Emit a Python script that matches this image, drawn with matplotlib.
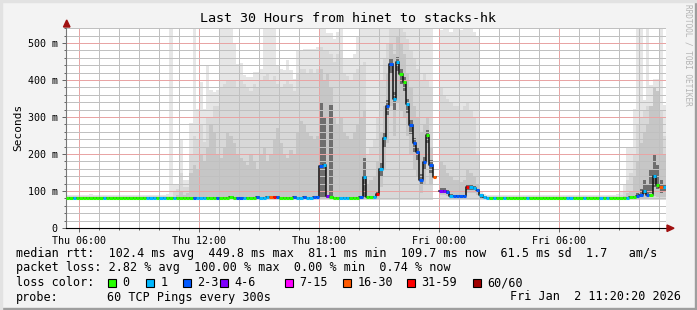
import numpy as np
import matplotlib
matplotlib.use('Agg')
import matplotlib.pyplot as plt
import matplotlib.dates as mdates
from matplotlib.ticker import MultipleLocator, FuncFormatter
from matplotlib.collections import LineCollection
from matplotlib.patches import Rectangle, Polygon
from datetime import datetime, timedelta

# smokeping graph: 30 hours of TCP pings hinet -> stacks-hk
title = 'Last 30 Hours from hinet to stacks-hk'
start = datetime(2026, 1, 1, 5, 20, 20)   # Thu
step_min = 10

# median rtt (ms) per 10 minute step, None = no answer
median_ms = [
    82, 82, 81, 82, 82, 82, 82, 81, 82, 82, 82, 82, 82, 82, 82, 82, 82, 82,
    82, 82, 82, 82, 82, 82, 82, 82, 82, 82, 82, 82, 82, 82, 82, 82, 82, 82,
    82, 82, 82, 82, 82, 82, 82, 82, 82, 82, 82, 82, 82, 83, 82, 82, 82, 82,
    82, 82, 82, 83, 82, 82, 83, 84, 84, 83, 82, 82, 82, 82, 83, 82, 82, 83,
    82, 82, 83, 83, 168, 171, 86, 84, 82, 82, 82, 82, 82, 82, 82, 82, 85, 139,
    84, 84, 85, 91, 160, 242, 330, 442, 350, 449.8, 415, 394, 335, 278, 229, 206, 131, 179,
    251, 170, 139, None, 101, 101, 96, 87, 86, 86, 86, 86, 110, 110, 109, 103, 89, 83,
    82, 82, 82, 82, 82, 82, 82, 82, 82, 82, 82, 82, 82, 82, 82, 82, 82, 82,
    82, 82, 82, 82, 82, 82, 82, 82, 82, 82, 82, 82, 82, 82, 82, 82, 82, 82,
    82, 82, 82, 82, 82, 82, 82, 84, 85, 87, 88, 101, 89, 90, 140, 116, 110, 110,
]

# loss class per step (index into loss_labels)
loss_code = [
    0, 0, 1, 0, 0, 0, 0, 0, 0, 0, 0, 1, 0, 0, 0, 0, 0, 0,
    0, 0, 0, 0, 0, 0, 1, 1, 1, 0, 1, 1, 0, 0, 1, 0, 0, 0,
    0, 0, 2, 1, 1, 1, 0, 0, 0, 2, 0, 0, 0, 0, 0, 2, 2, 1,
    0, 0, 0, 2, 1, 1, 1, 5, 6, 2, 0, 0, 0, 0, 2, 1, 1, 2,
    1, 1, 2, 2, 2, 1, 3, 0, 0, 0, 1, 1, 1, 0, 0, 0, 2, 1,
    0, 0, 1, 6, 1, 1, 2, 2, 1, 1, 0, 0, 1, 2, 2, 2, 2, 2,
    0, 2, 5, 7, 3, 3, 2, 1, 2, 2, 2, 2, 6, 1, 1, 2, 1, 1,
    1, 0, 1, 0, 0, 1, 0, 0, 0, 0, 0, 0, 1, 0, 0, 0, 0, 0,
    0, 0, 0, 0, 0, 0, 1, 1, 0, 0, 0, 1, 0, 0, 0, 0, 1, 0,
    1, 0, 0, 0, 0, 0, 1, 0, 0, 2, 2, 1, 2, 0, 1, 0, 5, 1,
]

# smoke: spread of the 60 pings per step (ms)
smoke_floor = 76
smoke_max = [
    89, 90, 89, 89, 88, 89, 90, 91, 89, 89, 88, 89, 89, 90, 89, 89, 89, 88,
    89, 89, 90, 89, 89, 88, 89, 89, 90, 89, 89, 90, 92, 545, 120, 118, 240, 130,
    130, 283, 545, 323, 395, 323, 440, 373, 368, 373, 545, 545, 545, 545, 500, 442, 445, 413,
    409, 409, 422, 422, 431, 545, 545, 545, 545, 440, 430, 427, 454, 427, 404, 481, 481, 485,
    485, 485, 485, 490, 545, 545, 526, 526, 512, 530, 545, 458, 458, 458, 470, 520, 540, 540,
    540, 545, 545, 545, 545, 545, 545, 545, 545, 545, 545, 545, 545, 545, 545, 545, 545, 545,
    545, 545, 545, None, 535, 540, 545, 530, 540, 545, 535, 540, 545, 540, 530, 520, 100, 92,
    89, 90, 89, 89, 90, 89, 88, 89, 89, 90, 89, 89, 89, 88, 89, 90, 89, 89,
    89, 89, 90, 89, 89, 88, 89, 89, 90, 89, 89, 89, 90, 89, 89, 88, 89, 89,
    89, 90, 90, 92, 100, 120, 215, 215, 323, 540, 540, 346, 540, 386, 404, 404, 540, 332,
]
smoke_p90 = [
    86, 86, 86, 86, 86, 86, 86, 86, 86, 86, 86, 86, 86, 86, 86, 86, 86, 86,
    86, 86, 86, 86, 86, 86, 86, 86, 86, 86, 86, 86, 86, 86, 100, 105, 150, 110,
    110, 200, 250, 240, 280, 233, 300, 300, 330, 330, 380, 390, 400, 400, 400, 380, 400, 390,
    380, 370, 390, 380, 400, 410, 420, 400, 410, 390, 380, 390, 400, 390, 370, 420, 430, 430,
    420, 430, 420, 430, 490, 480, 480, 470, 450, 470, 480, 420, 410, 400, 420, 430, 440, 450,
    200, 220, 240, 300, 400, 460, 500, 540, 540, 545, 540, 530, 510, 480, 460, 430, 400, 420,
    400, 380, 350, None, 380, 360, 350, 340, 330, 330, 320, 330, 340, 320, 300, 200, 92, 86,
    86, 86, 86, 86, 86, 86, 86, 86, 86, 86, 86, 86, 86, 86, 86, 86, 86, 86,
    86, 86, 86, 86, 86, 86, 86, 86, 86, 86, 86, 86, 86, 86, 86, 86, 86, 86,
    86, 86, 86, 86, 90, 100, 130, 150, 200, 280, 300, 320, 330, 330, 350, 350, 320, 250,
]
smoke_p75 = [
    84, 84, 84, 84, 84, 84, 84, 84, 84, 84, 84, 84, 84, 84, 84, 84, 84, 84,
    84, 84, 84, 84, 84, 84, 84, 84, 84, 84, 84, 84, 84, 84, 84, 90, 100, 90,
    95, 150, 170, 160, 200, 180, 220, 280, 260, 200, 190, 220, 260, 250, 230, 200, 190, 180,
    170, 200, 180, 160, 200, 220, 180, 200, 240, 270, 230, 200, 190, 210, 200, 260, 290, 280,
    260, 250, 240, 250, 430, 400, 420, 380, 300, 280, 300, 260, 250, 240, 260, 280, 300, 320,
    120, 130, 140, 180, 260, 330, 420, 500, 470, 520, 500, 470, 420, 380, 330, 300, 260, 280,
    300, 220, 180, None, 180, 170, 150, 140, 130, 130, 125, 130, 160, 150, 140, 120, 88, 84,
    84, 84, 84, 84, 84, 84, 84, 84, 84, 84, 84, 84, 84, 84, 84, 84, 84, 84,
    84, 84, 84, 84, 84, 84, 84, 84, 84, 84, 84, 84, 84, 84, 84, 84, 84, 84,
    84, 84, 84, 84, 84, 86, 95, 100, 140, 180, 230, 260, 280, 330, 380, 370, 300, 200,
]
smoke_p60 = [
    83, 83, 83, 83, 83, 83, 83, 83, 83, 83, 83, 83, 83, 83, 83, 83, 83, 83,
    83, 83, 83, 83, 83, 83, 83, 83, 83, 83, 83, 83, 83, 83, 83, 83, 83, 83,
    83, 83, 83, 83, 83, 83, 83, 83, 83, 83, 83, 83, 83, 83, 83, 83, 83, 83,
    83, 83, 83, 83, 83, 83, 83, 83, 83, 83, 83, 83, 83, 83, 83, 83, 83, 83,
    83, 83, 83, 83, 341, 300, 86, 332, 83, 83, 83, 83, 83, 83, 83, 83, 83, 190,
    86, 86, 87, 98, 175, 258, 345, 458, 368, 462, 430, 408, 350, 292, 242, 220, 145, 192,
    265, 185, 150, None, 108, 108, 102, 93, 90, 90, 90, 90, 116, 115, 113, 106, 86, 83,
    83, 83, 83, 83, 83, 83, 83, 83, 83, 83, 83, 83, 83, 83, 83, 83, 83, 83,
    83, 83, 83, 83, 83, 83, 83, 83, 83, 83, 83, 83, 83, 83, 83, 83, 83, 83,
    83, 83, 83, 83, 83, 83, 83, 85, 87, 95, 105, 130, 120, 160, 200, 170, 130, 115,
]
smoke_p40 = [
    81, 81, 81, 81, 81, 81, 81, 81, 81, 81, 81, 81, 81, 81, 81, 81, 81, 81,
    81, 81, 81, 81, 81, 81, 81, 81, 81, 81, 81, 81, 81, 81, 81, 81, 81, 81,
    81, 81, 81, 81, 81, 81, 81, 81, 81, 81, 81, 81, 81, 81, 81, 81, 81, 81,
    81, 81, 81, 81, 81, 81, 81, 81, 81, 81, 81, 81, 81, 81, 81, 81, 81, 81,
    81, 81, 81, 81, 85, 85, 82, 82, 81, 81, 81, 81, 81, 81, 81, 81, 81, 85,
    82, 82, 83, 86, 140, 220, 305, 415, 320, 425, 390, 370, 312, 255, 205, 185, 115, 160,
    230, 150, 120, None, 95, 95, 91, 84, 83, 83, 83, 83, 104, 104, 103, 96, 82, 81,
    81, 81, 81, 81, 81, 81, 81, 81, 81, 81, 81, 81, 81, 81, 81, 81, 81, 81,
    81, 81, 81, 81, 81, 81, 81, 81, 81, 81, 81, 81, 81, 81, 81, 81, 81, 81,
    81, 81, 81, 81, 81, 81, 81, 82, 84, 86, 88, 92, 90, 95, 110, 105, 95, 98,
]
smoke_p25 = [
    80, 80, 80, 80, 80, 80, 80, 80, 80, 80, 80, 80, 80, 80, 80, 80, 80, 80,
    80, 80, 80, 80, 80, 80, 80, 80, 80, 80, 80, 80, 80, 80, 80, 80, 80, 80,
    80, 80, 80, 80, 80, 80, 80, 80, 80, 80, 80, 80, 80, 80, 80, 80, 80, 80,
    80, 80, 80, 80, 80, 80, 80, 80, 80, 80, 80, 80, 80, 80, 80, 80, 80, 80,
    80, 80, 80, 80, 80, 80, 80, 80, 80, 80, 80, 80, 80, 80, 80, 80, 80, 80,
    80, 80, 80, 82, 110, 160, 230, 330, 250, 340, 320, 300, 250, 200, 160, 140, 95, 120,
    180, 120, 100, None, 88, 88, 86, 82, 81, 81, 81, 81, 95, 95, 95, 90, 80, 80,
    80, 80, 80, 80, 80, 80, 80, 80, 80, 80, 80, 80, 80, 80, 80, 80, 80, 80,
    80, 80, 80, 80, 80, 80, 80, 80, 80, 80, 80, 80, 80, 80, 80, 80, 80, 80,
    80, 80, 80, 80, 80, 80, 80, 80, 80, 80, 80, 80, 80, 84, 86, 85, 84, 85,
]

loss_labels = ['0', '1', '2-3', '4-6', '7-15', '16-30', '31-59', '60/60']
loss_colors = ['#26ff00', '#00b8ff', '#0059ff', '#7e00ff', '#ff00ff',
               '#ff5a00', '#ff0000', '#a00000']

stats_lines = [
    'median rtt:  102.4 ms avg  449.8 ms max  81.1 ms min  109.7 ms now  61.5 ms sd  1.7   am/s',
    'packet loss: 2.82 % avg  100.00 % max  0.00 % min  0.74 % now',
]
probe_text = '60 TCP Pings every 300s'
stamp_text = 'Fri Jan  2 11:20:20 2026'

W, H = 697, 310
MONO = 'DejaVu Sans Mono'

fig = plt.figure(figsize=(W / 100, H / 100), dpi=100, facecolor='#f3f3f3')
ax = fig.add_axes([66 / W, 82 / H, 600 / W, 200.5 / H])
ax.set_facecolor('white')


def px(x, y):
    # figure pixel (from top-left) -> figure fraction
    return x / W, 1 - y / H


def held(a):
    a = np.array(a, dtype=float)
    return np.append(a, a[-1])


n = len(median_ms)
times = [start + timedelta(minutes=step_min * i) for i in range(n + 1)]
x = mdates.date2num(times)

# smoke layers, light to dark
ax.fill_between(x, smoke_floor, held(smoke_max), step='post', color='#e6e6e6', lw=0, zorder=1)
ax.fill_between(x, smoke_floor, held(smoke_p90), step='post', color='#d8d8d8', lw=0, zorder=1)
ax.fill_between(x, held(smoke_p25), held(smoke_p75), step='post', color='#c6c6c6', lw=0, zorder=1)
ax.fill_between(x, held(smoke_p40), held(smoke_p60), step='post', color='#6e6e6e', lw=0, zorder=1)

# median: black connector, then coloured by loss
ax.step(x, held(median_ms), where='post', color='#111111', lw=1.1, zorder=2)
segs, cols = [], []
for i in range(n):
    if median_ms[i] is None:
        continue
    segs.append([(x[i], median_ms[i]), (x[i + 1], median_ms[i])])
    cols.append(loss_colors[loss_code[i]])
ax.add_collection(LineCollection(segs, colors=cols, linewidths=2.2, capstyle='butt', zorder=3))

ax.set_xlim(x[0], mdates.date2num(start + timedelta(hours=30)))
ax.set_ylim(0, 542)

ax.xaxis.set_major_locator(mdates.HourLocator(byhour=[0, 6, 12, 18]))
ax.xaxis.set_minor_locator(mdates.HourLocator())
ax.xaxis.set_major_formatter(mdates.DateFormatter('%a %H:%M'))
ax.yaxis.set_major_locator(MultipleLocator(100))
ax.yaxis.set_minor_locator(MultipleLocator(20))
ax.yaxis.set_major_formatter(FuncFormatter(lambda v, p: '0' if v == 0 else '%d m' % v))

ax.set_axisbelow('line')
ax.grid(which='minor', color='#c0c0c0', linestyle=(0, (1, 1)), lw=0.72, antialiased=False)
ax.grid(which='major', color='#e8a4a4', linestyle=(0, (1, 1)), lw=0.72, antialiased=False)

ax.tick_params(which='both', labelsize=7.2, colors='#666666', labelcolor='black', width=0.72)
ax.tick_params(which='major', length=3, pad=3)
ax.tick_params(which='minor', length=1.5)
for lab in ax.get_xticklabels() + ax.get_yticklabels():
    lab.set_family(MONO)

for s in ['top', 'right']:
    ax.spines[s].set_visible(False)
ax.spines['left'].set_color('#777777')
ax.spines['bottom'].set_color('black')
ax.spines['left'].set_linewidth(0.8)
ax.spines['bottom'].set_linewidth(0.8)

ax.set_ylabel('Seconds', family=MONO, fontsize=8, labelpad=3)

# axis arrows
red = '#a01010'
fig.patches.append(Polygon([px(63.5, 27), px(70, 27), px(66.7, 20)], closed=True,
                           color=red, transform=fig.transFigure, figure=fig))
fig.patches.append(Polygon([px(667, 225), px(667, 231.5), px(674, 228.2)], closed=True,
                           color=red, transform=fig.transFigure, figure=fig))

# frame
fig.patches.append(Rectangle((0, 0), 1, 2.5 / H, color='#9e9e9e', transform=fig.transFigure, figure=fig))
fig.patches.append(Rectangle((1 - 2.5 / W, 0), 2.5 / W, 1, color='#9e9e9e', transform=fig.transFigure, figure=fig))
fig.patches.append(Rectangle((0, 1 - 1.5 / H), 1, 1.5 / H, color='#e2e2e2', transform=fig.transFigure, figure=fig))
fig.patches.append(Rectangle((0, 0), 1.5 / W, 1, color='#e2e2e2', transform=fig.transFigure, figure=fig))

fig.text(*px(348, 19), title, family=MONO, fontsize=9.6, ha='center', va='center')
fig.text(*px(688, 4), 'RRDTOOL / TOBI OETIKER', family=MONO, fontsize=5.6,
         color='#b4b4b4', rotation=270, ha='center', va='top')

# legend block
fs = 8.5
for k, line in enumerate(stats_lines):
    fig.text(*px(16, 254 + 14 * k), line, family=MONO, fontsize=fs, va='center')
fig.text(*px(16, 282.5), 'loss color:', family=MONO, fontsize=fs, va='center')
box_x = [108, 146, 183, 220, 285, 343, 407, 473]
for bx, lab, col in zip(box_x, loss_labels, loss_colors):
    fig.patches.append(Rectangle(px(bx, 287), 8 / W, 8 / H, facecolor=col, edgecolor='black',
                                 lw=0.8, transform=fig.transFigure, figure=fig))
    fig.text(*px(bx + 14.5, 282.5), lab, family=MONO, fontsize=fs, va='center')
fig.text(*px(16, 297), 'probe:', family=MONO, fontsize=fs, va='center')
fig.text(*px(107, 297), probe_text, family=MONO, fontsize=fs, va='center')
fig.text(*px(681, 297), stamp_text, family=MONO, fontsize=fs, va='center', ha='right')

fig.savefig('out.png', dpi=100, facecolor=fig.get_facecolor())
